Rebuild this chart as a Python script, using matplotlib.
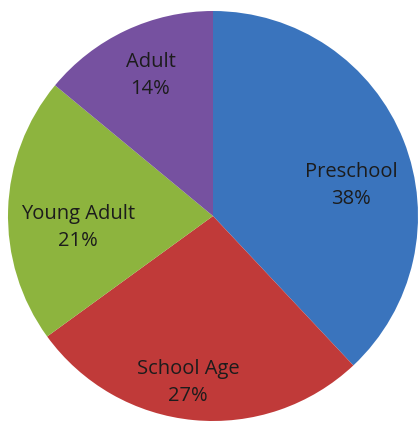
import matplotlib
matplotlib.use("Agg")
import matplotlib.pyplot as plt
import numpy as np

categories = ["Preschool", "School Age", "Young Adult", "Adult"]
values = [38, 27, 21, 14]
colors = ["#3a74bd", "#c03a39", "#8db43e", "#7651a0"]
# label anchor: (angle in degrees, distance as fraction of radius)
label_polar = [(12.5, 0.69), (-98.5, 0.82), (185, 0.66), (114, 0.75)]

W, H = 419, 423
fig = plt.figure(figsize=(W / 100, H / 100), dpi=100)
fig.patch.set_facecolor("white")
cx, cy, r = 213, 216, 205
ax = fig.add_axes([(cx - r) / W, (H - cy - r) / H, 2 * r / W, 2 * r / H])
ax.pie(values, colors=colors, startangle=90, counterclock=False,
       radius=1.0, wedgeprops=dict(linewidth=0))
ax.set_xlim(-1, 1)
ax.set_ylim(-1, 1)
ax.set_aspect("auto")
ax.axis("off")

for cat, v, (ang, d) in zip(categories, values, label_polar):
    x = d * np.cos(np.radians(ang))
    y = d * np.sin(np.radians(ang))
    ax.text(x, y, f"{cat}\n{v}%", ha="center", va="center",
            fontsize=14.5, family="Open Sans", color="#1c1c1c", linespacing=1.45)

fig.savefig("out.png", dpi=100, facecolor="white")
